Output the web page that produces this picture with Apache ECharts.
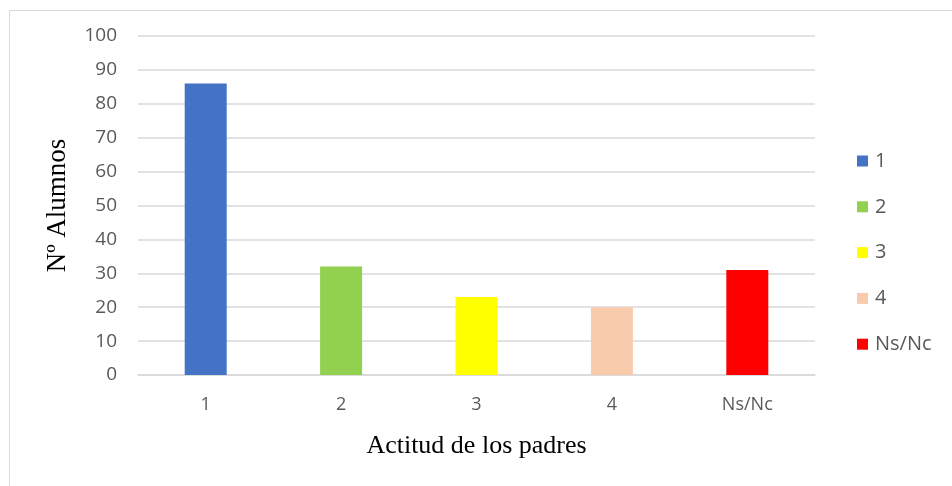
<!DOCTYPE html>
<html>
<head>
<meta charset="utf-8">
<script src="https://cdn.jsdelivr.net/npm/echarts@6/dist/echarts.min.js"></script>
<style>
  html, body { margin: 0; padding: 0; background: #ffffff; }
  #chart { width: 952px; height: 486px; }
</style>
</head>
<body>
<div id="chart"></div>
<script>
// Actitud de los padres: number of students per answer
const categories = ['1', '2', '3', '4', 'Ns/Nc'];
const alumnos = [86, 32, 23, 20, 31];
const colors = ['#4472c4', '#92d050', '#ffff00', '#f8cbad', '#ff0000'];
const yTicks = { min: 0, max: 100, interval: 10 };

const chart = echarts.init(document.getElementById('chart'));

// One series per category so each gets its own legend entry; stacking keeps the bar centred.
const series = categories.map((name, i) => ({
  name: name,
  type: 'bar',
  stack: 'total',
  barWidth: 42,
  itemStyle: { color: colors[i] },
  data: categories.map((c, j) => (j === i ? alumnos[i] : '-'))
}));

chart.setOption({
  animation: false,
  backgroundColor: '#ffffff',
  textStyle: { fontFamily: 'Open Sans' },
  graphic: [{
    type: 'rect',
    left: 7, top: 8,
    shape: { width: 960, height: 490 },
    style: { fill: 'none', stroke: '#d9d9d9', lineWidth: 1 },
    silent: true,
    z: -1
  }],
  grid: { left: 138, right: 137, top: 36, bottom: 111, containLabel: false },
  legend: {
    orient: 'vertical',
    left: 852,
    top: 146,
    itemWidth: 11,
    itemHeight: 11,
    itemGap: 25.8,
    icon: 'rect',
    textStyle: { fontSize: 20, color: '#595959', fontFamily: 'Open Sans', padding: [0, 0, 0, 2] },
    data: categories
  },
  xAxis: {
    type: 'category',
    data: categories,
    name: 'Actitud de los padres',
    nameLocation: 'middle',
    nameGap: 58,
    nameTextStyle: { fontFamily: 'Liberation Serif', fontSize: 26, color: '#000000' },
    axisLine: { show: true, lineStyle: { color: '#d9d9d9', width: 1.5 } },
    axisTick: { show: false },
    axisLabel: { fontSize: 18, color: '#595959', margin: 21 }
  },
  yAxis: {
    type: 'value',
    min: yTicks.min,
    max: yTicks.max,
    interval: yTicks.interval,
    name: 'Nº Alumnos',
    nameLocation: 'middle',
    nameGap: 67,
    nameRotate: 90,
    nameTextStyle: { fontFamily: 'Liberation Serif', fontSize: 27, color: '#000000' },
    axisLine: { show: false },
    axisTick: { show: false },
    axisLabel: { fontSize: 19, color: '#595959', margin: 21 },
    splitLine: { lineStyle: { color: '#d9d9d9', width: 1.5 } }
  },
  series: series
});
</script>
</body>
</html>
